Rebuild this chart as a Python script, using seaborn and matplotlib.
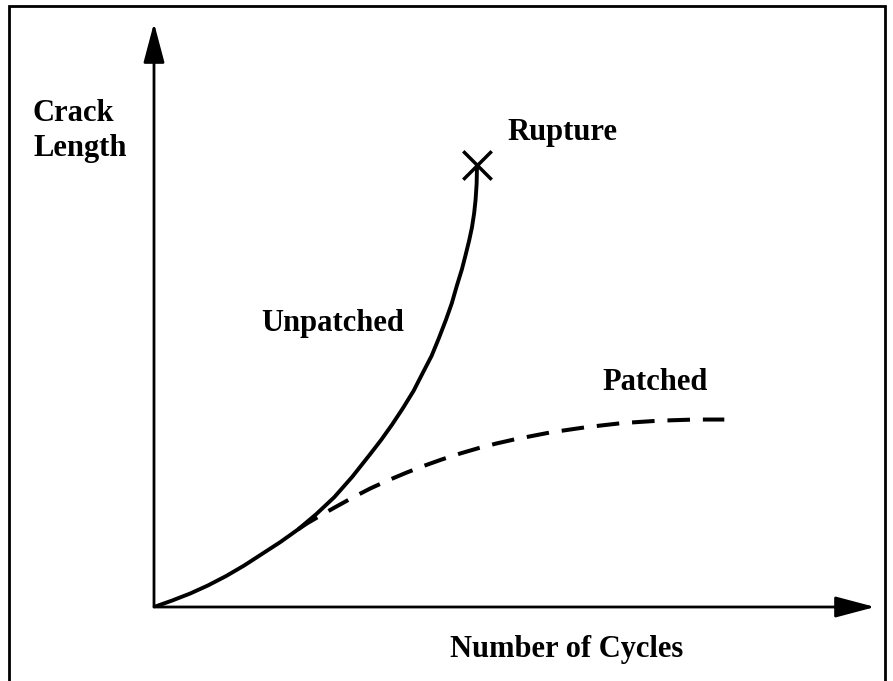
import matplotlib
matplotlib.use("Agg")
import matplotlib.pyplot as plt
import seaborn as sns
import pandas as pd
from matplotlib.patches import Rectangle

# ---- data (conceptual units: cycles vs crack length) ----
unpatched_x = [0.00, 0.25, 0.50, 0.75, 1.00, 1.25, 1.50, 1.75, 2.00, 2.25, 2.50,
               2.75, 3.00, 3.15, 3.30, 3.45, 3.60, 3.72, 3.85, 3.95, 4.05, 4.13,
               4.20, 4.27, 4.32, 4.37, 4.41, 4.44, 4.46, 4.475, 4.48]
unpatched_y = [0.00, 0.11, 0.23, 0.37, 0.53, 0.71, 0.91, 1.11, 1.33, 1.59, 1.88,
               2.23, 2.62, 2.86, 3.12, 3.40, 3.70, 3.99, 4.30, 4.60, 4.92, 5.20,
               5.50, 5.78, 6.02, 6.27, 6.50, 6.74, 6.97, 7.25, 7.57]

patched_x = [2.00, 2.12, 2.30, 2.50, 2.75, 3.00, 3.25, 3.50, 3.75, 4.00, 4.25,
             4.50, 4.75, 5.00, 5.50, 6.00, 6.50, 7.00, 7.50, 7.91]
patched_y = [1.33, 1.43, 1.56, 1.70, 1.87, 2.03, 2.17, 2.30, 2.42, 2.53, 2.63,
             2.72, 2.80, 2.87, 2.99, 3.08, 3.15, 3.19, 3.21, 3.21]

rupture_x = [4.48]
rupture_y = [7.57]

labels = {"y": ["Crack", "Length"], "x": "Number of Cycles",
          "rupture": "Rupture", "unpatched": "Unpatched", "patched": "Patched"}

sns.set_theme(style="white")
plt.rcParams["font.family"] = ["Liberation Serif", "DejaVu Serif"]

W, H = 893, 681
fig = plt.figure(figsize=(W / 100, H / 100), dpi=100)
fig.patch.set_facecolor("white")

def fx(px):
    return px / W

def fy(py):
    return 1 - py / H

# border around figure (bottom edge runs off the picture)
fig.patches.append(Rectangle((fx(9), fy(700)), fx(885) - fx(9), fy(6) - fy(700),
                             transform=fig.transFigure, fill=False,
                             edgecolor="black", linewidth=2.0))

ax = fig.add_axes([fx(154), fy(607), fx(875) - fx(154), fy(23) - fy(607)])
ax.set_xlim(0, 10)
ax.set_ylim(0, 10)
ax.axis("off")

df_u = pd.DataFrame({"cycles": unpatched_x, "crack": unpatched_y})
df_p = pd.DataFrame({"cycles": patched_x, "crack": patched_y})

sns.lineplot(data=df_u, x="cycles", y="crack", ax=ax, color="black",
             linewidth=2.8, estimator=None, sort=False)
sns.lineplot(data=df_p, x="cycles", y="crack", ax=ax, color="black",
             linewidth=2.9, estimator=None, sort=False,
             linestyle=(0, (5.6, 3.2)))
sns.scatterplot(x=rupture_x, y=rupture_y, ax=ax, marker="x", s=420,
                color="black", linewidth=2.5, zorder=5)

# axis arrows
arrow_kw = dict(arrowstyle="-|>,head_length=2.45,head_width=0.65",
                mutation_scale=10, lw=2.0, color="black",
                shrinkA=0, shrinkB=0)
ax.annotate("", xy=(0, 1), xytext=(0, 0), xycoords="axes fraction",
            textcoords="axes fraction", arrowprops=arrow_kw, annotation_clip=False)
ax.annotate("", xy=(1, 0), xytext=(0, 0), xycoords="axes fraction",
            textcoords="axes fraction", arrowprops=arrow_kw, annotation_clip=False)

tkw = dict(fontsize=22, fontweight="bold", color="black", va="baseline", ha="left")
fig.text(fx(33), fy(121), labels["y"][0], **tkw)
fig.text(fx(33), fy(156), labels["y"][1], **tkw)
fig.text(fx(507), fy(140), labels["rupture"], **tkw)
fig.text(fx(261), fy(331), labels["unpatched"], **tkw)
fig.text(fx(602), fy(390), labels["patched"], **tkw)
fig.text(fx(450), fy(657), labels["x"], **tkw)

fig.savefig("out.png", dpi=100)
